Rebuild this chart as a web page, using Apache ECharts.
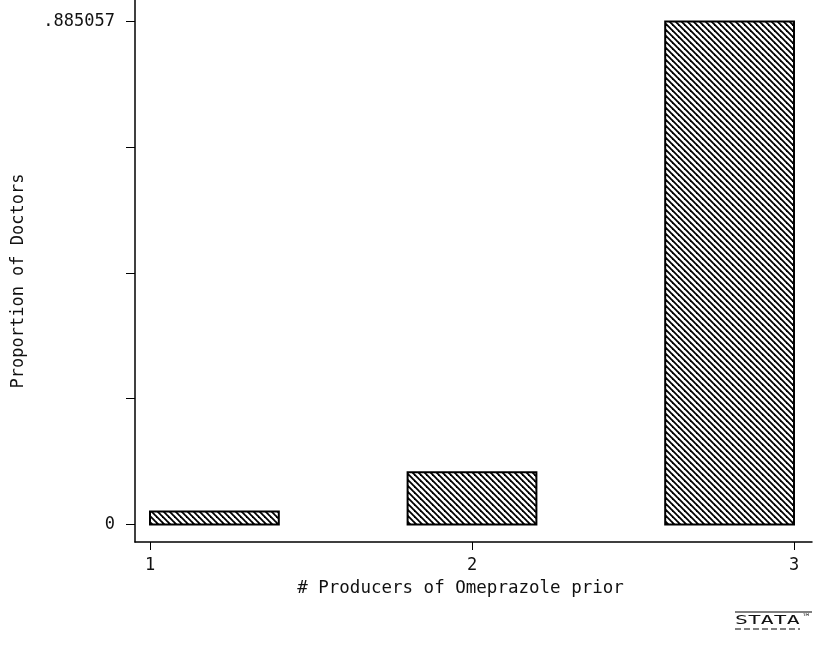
<!DOCTYPE html>
<html>
<head>
<meta charset="utf-8">
<script src="https://cdn.jsdelivr.net/npm/echarts@6/dist/echarts.min.js"></script>
<style>
html,body{margin:0;padding:0;background:#fff;}
#chart{width:815px;height:650px;}
</style>
</head>
<body>
<div id="chart"></div>
<script>
// ---- data ----
const binStarts = [1.0, 1.4, 1.8, 2.2, 2.6];
const binEnds = [1.4, 1.8, 2.2, 2.6, 3.0];
const proportions = [0.022989, 0, 0.091954, 0, 0.885057];
const yTickValues = [0, 0.221264, 0.442529, 0.663793, 0.885057];
const yLabelValues = [0, 0.885057];
const xTickValues = [1, 2, 3];
const xTitle = '# Producers of Omeprazole prior';
const yTitle = 'Proportion of Doctors';

// hatch pattern
function makeHatch() {
  const s = 6;
  const c = document.createElement('canvas');
  c.width = s; c.height = s;
  const g = c.getContext('2d');
  g.fillStyle = '#fff';
  g.fillRect(0, 0, s, s);
  g.strokeStyle = '#000';
  g.lineWidth = 1.8;
  for (const x0 of [-s, 0, s]) {
    g.beginPath();
    g.moveTo(x0 - 1, -1);
    g.lineTo(x0 + s + 1, s + 1);
    g.stroke();
  }
  return c;
}
const hatch = makeHatch();

const seriesData = binStarts.map((b, i) => [b, binEnds[i], proportions[i]]);
const font = '"DejaVu Sans Mono", "Liberation Mono", monospace';

const chart = echarts.init(document.getElementById('chart'), null, {renderer: 'canvas'});
chart.setOption({
  animation: false,
  backgroundColor: '#fff',
  grid: {left: 135, right: 3, top: 0, bottom: 108, containLabel: false, outerBoundsMode: 'none'},
  xAxis: {
    type: 'value',
    min: 0.9534,
    max: 3.0559,
    splitLine: {show: false},
    axisLine: {onZero: false, lineStyle: {color: '#000', width: 1.5}},
    axisTick: {show: true, length: 8, customValues: xTickValues, lineStyle: {color: '#000', width: 1}},
    axisLabel: {customValues: xTickValues, margin: 15, color: '#111', fontFamily: font, fontSize: 17},
    name: xTitle,
    nameLocation: 'middle',
    nameGap: 37,
    nameTextStyle: {color: '#111', fontFamily: font, fontSize: 17.5, padding: [0, 26, 0, 0]}
  },
  yAxis: {
    type: 'value',
    min: -0.0308,
    max: 0.9229,
    splitLine: {show: false},
    axisLine: {onZero: false, lineStyle: {color: '#000', width: 1.5}},
    axisTick: {show: true, length: 9, customValues: yTickValues, lineStyle: {color: '#000', width: 1}},
    axisLabel: {
      customValues: yLabelValues, margin: 20, color: '#111', fontFamily: font, fontSize: 17,
      formatter: v => v === 0 ? '0' : String(v).replace(/^0/, '')
    },
    name: yTitle,
    nameLocation: 'middle',
    nameGap: 108,
    nameRotate: 90,
    nameTextStyle: {color: '#111', fontFamily: font, fontSize: 17, padding: [0, 20, 0, 0]}
  },
  series: [{
    type: 'custom',
    data: seriesData,
    encode: {x: [0, 1], y: 2},
    renderItem: function (params, api) {
      const v = api.value(2);
      if (!v) return null;
      const p0 = api.coord([api.value(0), v]);
      const p1 = api.coord([api.value(1), 0]);
      return {
        type: 'rect',
        shape: {x: p0[0], y: p0[1], width: p1[0] - p0[0], height: p1[1] - p0[1]},
        style: {fill: {image: hatch, repeat: 'repeat'}, stroke: '#000', lineWidth: 2}
      };
    }
  }],
  graphic: [
    {type: 'line', shape: {x1: 735, y1: 612, x2: 812, y2: 612}, style: {stroke: '#000', lineWidth: 1.2}},
    {type: 'line', shape: {x1: 735, y1: 629, x2: 800, y2: 629}, style: {stroke: '#000', lineWidth: 1, lineDash: [6, 3]}},
    {type: 'text', x: 735, y: 614, scaleX: 1.65, style: {text: 'STATA', fill: '#111', font: '13px "DejaVu Sans Mono", monospace'}},
    {type: 'text', x: 802, y: 613, style: {text: '™', fill: '#111', font: '9px "DejaVu Sans", sans-serif'}}
  ]
});
</script>
</body>
</html>
